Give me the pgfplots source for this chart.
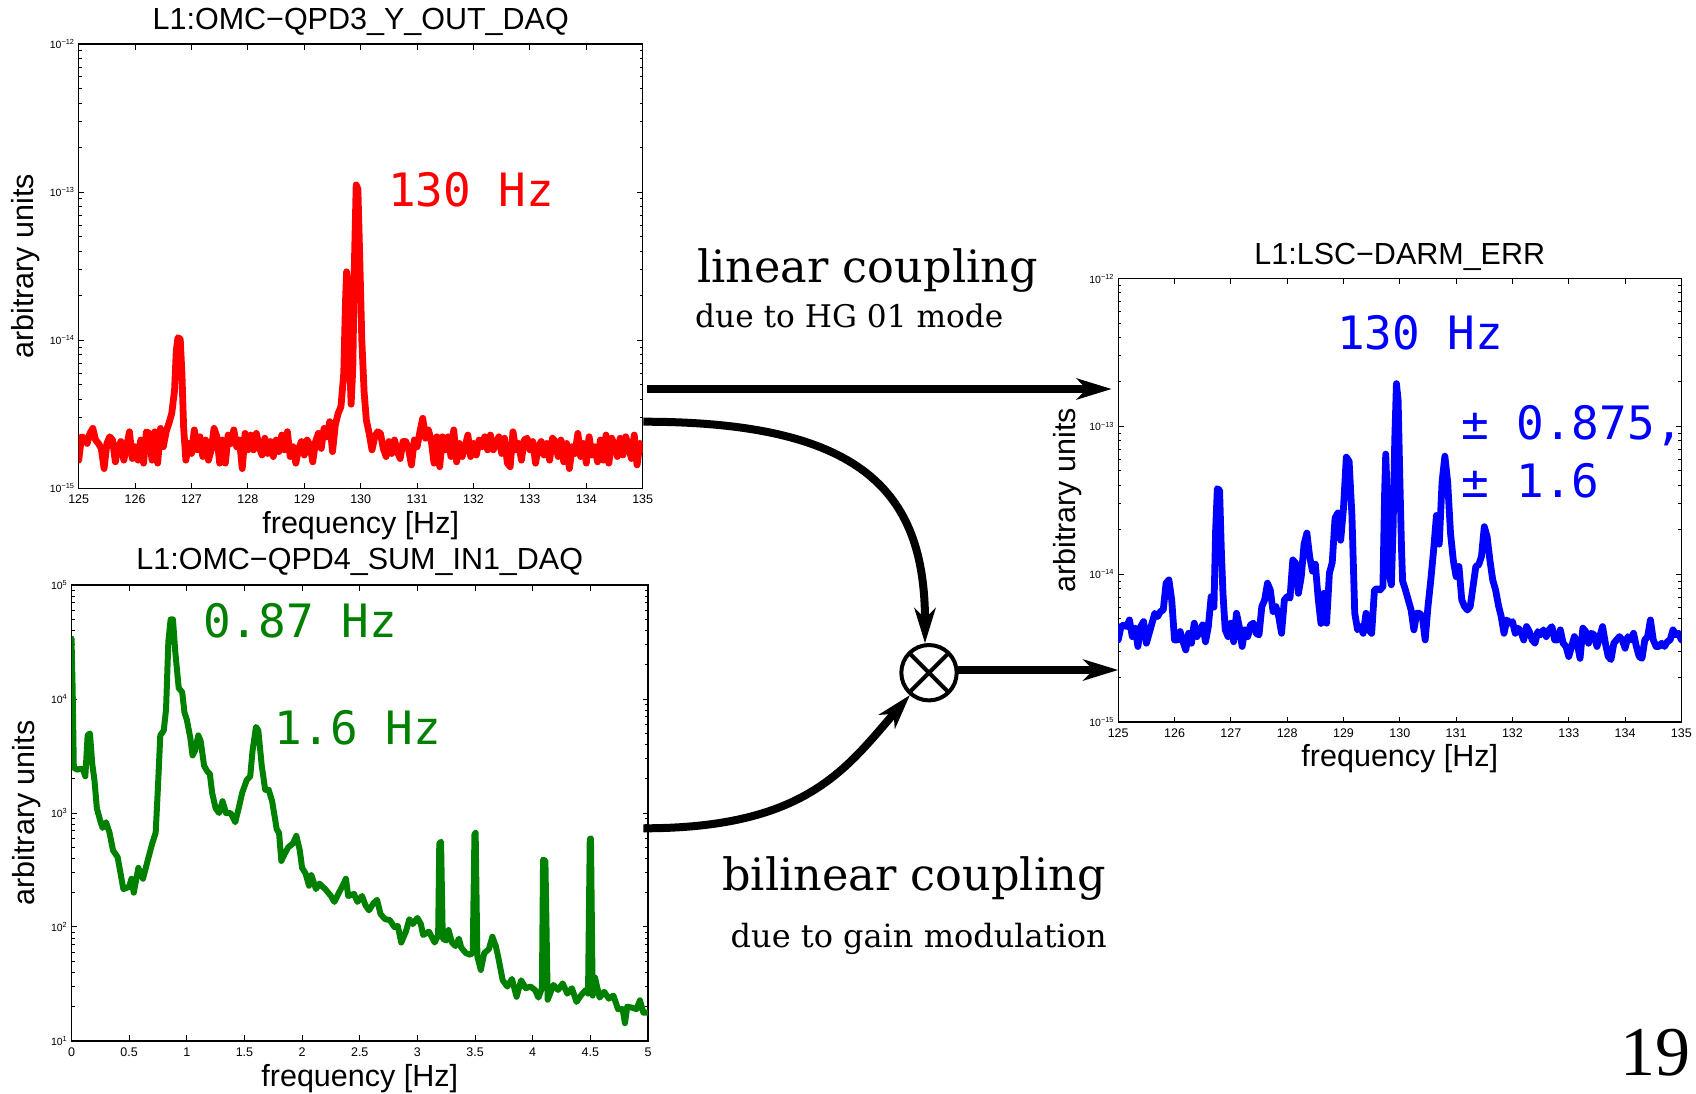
\documentclass[border=0pt]{standalone}
\usepackage{fontspec}
\setmainfont{Liberation Sans}
\newfontfamily\monof{DejaVu Sans Mono}
\newfontfamily\serifdv{DejaVu Serif}
\newfontfamily\timesf{Liberation Serif}
\usepackage{pgfplots}
\pgfplotsset{compat=1.18}
\usetikzlibrary{arrows.meta}
\definecolor{mgreen}{RGB}{0,128,0}
\newcommand{\fs}[1]{\fontsize{#1}{#1}\selectfont}
\tikzset{myline/.style={line width=6.8pt,line join=round,line cap=round}}
\pgfplotsset{
  refax/.style={
    scale only axis,
    anchor=south west,
    axis line style={line width=1.3pt},
    every tick/.style={black,line width=1pt},
    major tick length=5.5pt,
    minor tick length=3pt,
    tick align=inside,
    xtick pos=both, ytick pos=both,
    xticklabel style={font=\fs{12.5},inner sep=0pt,yshift=-6.5pt},
    yticklabel style={font=\fs{10.5},inner sep=0pt,xshift=-4pt},
    title style={font=\fs{30.5},inner sep=0pt},
    every axis label/.append style={font=\fs{30.5},inner sep=0pt},
    xlabel={frequency [Hz]},
    ylabel={arbitrary units},
  }
}
\begin{document}
\begin{tikzpicture}[x=1pt,y=1pt]
\useasboundingbox (0,0) rectangle (1696,-1093);

% ---------------- top-left: QPD3 ----------------
\begin{axis}[refax, ymode=log,
  at={(78.7pt,-488.3pt)}, width=564pt, height=444.2pt,
  xmin=125, xmax=135, ymin=1e-15, ymax=1e-12,
  xtick={125,126,127,128,129,130,131,132,133,134,135},
  xticklabels={125,126,127,128,129,130,131,132,133,134,135},
  ytick={1e-15,1e-14,1e-13,1e-12},
  yticklabels={10\textsuperscript{−15},10\textsuperscript{−14},10\textsuperscript{−13},10\textsuperscript{−12}},
  title={L1:OMC−QPD3\_Y\_OUT\_DAQ},
  title style={at={(axis description cs:0.5,1)},anchor=base,yshift=8.7pt},
  xlabel style={at={(axis description cs:0.5,-0.1015)},anchor=base},
  ylabel style={at={(axis description cs:-0.081,0.5)},anchor=base},
]
\addplot[red,myline,no markers] coordinates {
(125.00,1.55e-15)(125.05,2.23e-15)(125.10,2.18e-15)(125.15,2.01e-15)(125.20,2.35e-15)(125.25,2.54e-15)(125.30,2.12e-15)(125.35,2.01e-15)(125.40,1.86e-15)(125.45,1.36e-15)
(125.50,2.01e-15)(125.55,2.23e-15)(125.60,2.12e-15)(125.65,1.51e-15)(125.70,1.91e-15)(125.75,2.07e-15)(125.80,1.55e-15)(125.85,1.91e-15)(125.90,2.41e-15)(125.95,1.59e-15)
(126.00,1.91e-15)(126.05,1.55e-15)(126.10,2.12e-15)(126.15,1.48e-15)(126.20,2.41e-15)(126.25,2.35e-15)(126.30,1.55e-15)(126.35,2.41e-15)(126.40,1.48e-15)(126.45,2.54e-15)
(126.50,1.91e-15)(126.55,2.41e-15)(126.60,2.75e-15)(126.65,3.21e-15)(126.70,4.62e-15)(126.73,8.5e-15)(126.76,10.4e-15)(126.80,10.2e-15)(126.83,6.0e-15)(126.86,2.6e-15)
(126.90,1.55e-15)(126.95,2.01e-15)(127.00,1.72e-15)(127.05,2.48e-15)(127.10,1.82e-15)(127.15,2.23e-15)(127.20,1.64e-15)(127.25,2.12e-15)(127.30,1.55e-15)(127.35,1.82e-15)
(127.40,2.54e-15)(127.45,2.23e-15)(127.50,1.48e-15)(127.55,2.12e-15)(127.60,1.48e-15)(127.65,2.29e-15)(127.70,2.01e-15)(127.75,2.48e-15)(127.80,1.91e-15)(127.85,2.12e-15)
(127.90,1.36e-15)(127.95,2.35e-15)(128.00,1.82e-15)(128.05,2.29e-15)(128.10,1.82e-15)(128.15,2.35e-15)(128.20,1.91e-15)(128.25,1.68e-15)(128.30,2.18e-15)(128.35,1.72e-15)
(128.40,2.07e-15)(128.45,1.64e-15)(128.50,2.12e-15)(128.55,1.77e-15)(128.60,2.29e-15)(128.65,1.82e-15)(128.70,2.41e-15)(128.75,1.64e-15)(128.80,1.91e-15)(128.85,1.48e-15)
(128.90,1.86e-15)(128.95,2.07e-15)(129.00,1.68e-15)(129.05,2.12e-15)(129.10,1.96e-15)(129.15,1.51e-15)(129.20,2.07e-15)(129.25,2.35e-15)(129.30,1.86e-15)(129.35,2.54e-15)
(129.40,2.23e-15)(129.45,2.82e-15)(129.50,1.77e-15)(129.55,2.68e-15)(129.60,3.21e-15)(129.65,3.56e-15)(129.70,6.0e-15)(129.73,18e-15)(129.75,29e-15)(129.77,25e-15)
(129.80,8.0e-15)(129.83,3.7e-15)(129.86,6.5e-15)(129.89,35e-15)(129.92,112e-15)(129.95,105e-15)(129.98,40e-15)(130.02,10e-15)(130.06,4.5e-15)(130.10,2.89e-15)
(130.15,2.35e-15)(130.20,1.82e-15)(130.25,2.23e-15)(130.30,2.41e-15)(130.35,2.35e-15)(130.40,1.86e-15)(130.45,1.64e-15)(130.50,2.07e-15)(130.55,1.72e-15)(130.60,2.12e-15)
(130.65,1.77e-15)(130.70,1.59e-15)(130.75,2.07e-15)(130.80,2.07e-15)(130.85,1.82e-15)(130.90,1.44e-15)(130.95,2.12e-15)(131.00,1.91e-15)(131.05,2.41e-15)(131.10,2.97e-15)
(131.15,2.18e-15)(131.20,2.48e-15)(131.25,2.12e-15)(131.30,1.48e-15)(131.35,2.23e-15)(131.40,1.40e-15)(131.45,2.23e-15)(131.50,1.82e-15)(131.55,2.23e-15)(131.60,1.64e-15)
(131.65,2.48e-15)(131.70,1.51e-15)(131.75,2.01e-15)(131.80,1.64e-15)(131.85,1.91e-15)(131.90,2.29e-15)(131.95,1.64e-15)(132.00,2.01e-15)(132.05,1.68e-15)(132.10,2.12e-15)
(132.15,1.91e-15)(132.20,2.23e-15)(132.25,1.82e-15)(132.30,2.29e-15)(132.35,1.82e-15)(132.40,2.01e-15)(132.45,2.23e-15)(132.50,1.72e-15)(132.55,2.18e-15)(132.60,1.48e-15)
(132.65,1.40e-15)(132.70,2.41e-15)(132.75,1.82e-15)(132.80,2.01e-15)(132.85,1.55e-15)(132.90,2.12e-15)(132.95,2.18e-15)(133.00,1.82e-15)(133.05,2.07e-15)(133.10,1.48e-15)
(133.15,1.91e-15)(133.20,2.07e-15)(133.25,1.68e-15)(133.30,2.01e-15)(133.35,1.55e-15)(133.40,2.18e-15)(133.45,2.07e-15)(133.50,1.64e-15)(133.55,2.12e-15)(133.60,1.51e-15)
(133.65,2.01e-15)(133.70,1.36e-15)(133.75,1.91e-15)(133.80,1.72e-15)(133.85,2.35e-15)(133.90,1.64e-15)(133.95,2.01e-15)(134.00,1.48e-15)(134.05,2.23e-15)(134.10,1.68e-15)
(134.15,1.91e-15)(134.20,1.51e-15)(134.25,2.12e-15)(134.30,1.55e-15)(134.35,2.29e-15)(134.40,1.48e-15)(134.45,2.18e-15)(134.50,1.96e-15)(134.55,1.64e-15)(134.60,2.18e-15)
(134.65,1.68e-15)(134.70,2.23e-15)(134.75,1.91e-15)(134.80,1.59e-15)(134.85,2.29e-15)(134.90,1.44e-15)(134.95,2.01e-15)(135.00,1.82e-15)
};
\end{axis}

% ---------------- bottom-left: QPD4 SUM ----------------
\begin{axis}[refax, ymode=log,
  at={(71.5pt,-1040.9pt)}, width=576.5pt, height=455.8pt,
  xmin=0, xmax=5, ymin=10, ymax=1e5,
  xtick={0,0.5,1,1.5,2,2.5,3,3.5,4,4.5,5},
  xticklabels={0,0.5,1,1.5,2,2.5,3,3.5,4,4.5,5},
  ytick={10,100,1000,10000,100000},
  yticklabels={10\textsuperscript{1},10\textsuperscript{2},10\textsuperscript{3},10\textsuperscript{4},10\textsuperscript{5}},
  title={L1:OMC−QPD4\_SUM\_IN1\_DAQ},
  title style={at={(axis description cs:0.5,1)},anchor=base,yshift=9.3pt},
  xlabel style={at={(axis description cs:0.5,-0.099)},anchor=base},
  ylabel style={at={(axis description cs:-0.065,0.5)},anchor=base},
]
\addplot[mgreen,myline,line width=6pt,no markers] coordinates {
(0.00,34000)(0.01,12000)(0.02,2500)(0.05,2400)(0.08,2450)(0.10,2400)(0.12,2100)(0.14,4800)(0.16,5000)(0.18,2700)
(0.20,1900)(0.22,1100)(0.25,850)(0.27,740)(0.30,830)(0.33,670)(0.36,470)(0.40,410)(0.45,215)(0.50,225)
(0.52,265)(0.54,200)(0.58,330)(0.62,265)(0.66,380)(0.70,540)(0.73,670)(0.75,1700)(0.77,4800)(0.80,5300)
(0.82,8100)(0.84,32000)(0.86,50000)(0.88,50000)(0.90,26000)(0.93,12500)(0.96,11500)(0.98,7600)(1.00,6600)(1.03,4600)
(1.05,3200)(1.07,3500)(1.10,4800)(1.12,4300)(1.15,2600)(1.18,2300)(1.20,2200)(1.22,1500)(1.25,1100)(1.28,1000)
(1.31,1270)(1.34,1000)(1.38,1000)(1.42,830)(1.45,1100)(1.48,1500)(1.52,1950)(1.55,2100)(1.57,3500)(1.60,5700)
(1.62,5300)(1.65,2600)(1.68,1600)(1.71,1600)(1.74,1270)(1.78,720)(1.80,670)(1.82,380)(1.85,440)(1.88,500)
(1.92,540)(1.95,630)(1.98,470)(2.00,330)(2.03,295)(2.06,230)(2.08,285)(2.12,215)(2.15,240)(2.20,215)
(2.25,187)(2.28,166)(2.32,200)(2.36,240)(2.38,265)(2.40,187)(2.45,195)(2.48,166)(2.52,187)(2.55,155)
(2.58,140)(2.62,162)(2.65,173)(2.68,130)(2.72,117)(2.76,115)(2.80,100)(2.83,102)(2.86,73)(2.90,91)
(2.93,117)(2.96,106)(3.00,120)(3.03,106)(3.05,85)(3.10,91)(3.15,73)(3.18,85)(3.19,540)(3.205,560)
(3.22,79)(3.25,76)(3.27,94)(3.30,73)(3.33,68)(3.36,79)(3.38,66)(3.42,59)(3.46,57)(3.48,60)
(3.495,650)(3.505,670)(3.52,55)(3.55,42)(3.58,59)(3.62,64)(3.65,82)(3.68,68)(3.70,55)(3.74,34)
(3.78,30)(3.82,35)(3.86,24.4)(3.90,34)(3.94,29)(3.98,30)(4.02,28)(4.05,24)(4.08,29)(4.09,390)
(4.11,380)(4.13,23)(4.18,31)(4.22,28)(4.26,32)(4.30,26)(4.34,29)(4.38,22)(4.42,25.2)(4.46,28)
(4.48,26)(4.495,590)(4.505,600)(4.52,25)(4.54,36)(4.58,24)(4.62,27)(4.66,23.5)(4.70,25)(4.74,19)
(4.78,19)(4.80,14.3)(4.82,20)(4.86,19.6)(4.90,19)(4.93,22.7)(4.96,17.7)(5.00,17.7)
};
\end{axis}

% ---------------- right: DARM_ERR ----------------
\begin{axis}[refax, ymode=log,
  at={(1118.2pt,-722.1pt)}, width=563.2pt, height=443.5pt,
  xmin=125, xmax=135, ymin=1e-15, ymax=1e-12,
  xtick={125,126,127,128,129,130,131,132,133,134,135},
  xticklabels={125,126,127,128,129,130,131,132,133,134,135},
  ytick={1e-15,1e-14,1e-13,1e-12},
  yticklabels={10\textsuperscript{−15},10\textsuperscript{−14},10\textsuperscript{−13},10\textsuperscript{−12}},
  title={L1:LSC−DARM\_ERR},
  title style={at={(axis description cs:0.5,1)},anchor=base,yshift=8.3pt},
  xlabel style={at={(axis description cs:0.5,-0.1005)},anchor=base},
  ylabel style={at={(axis description cs:-0.0767,0.5)},anchor=base},
]
\addplot[blue,myline,no markers] coordinates {
(125.00,3.6e-15)(125.05,4.43e-15)(125.10,4.55e-15)(125.15,4.43e-15)(125.20,4.91e-15)(125.25,3.79e-15)(125.30,4.32e-15)(125.35,3.25e-15)(125.40,4.43e-15)(125.45,4.79e-15)
(125.50,3.42e-15)(125.55,3.99e-15)(125.60,4.67e-15)(125.65,5.45e-15)(125.70,5.18e-15)(125.75,5.6e-15)(125.80,5.74e-15)(125.85,8.7e-15)(125.90,9.16e-15)(125.95,6.71e-15)
(126.00,3.6e-15)(126.05,3.6e-15)(126.10,4.1e-15)(126.15,3.5e-15)(126.20,3.08e-15)(126.25,3.99e-15)(126.30,3.42e-15)(126.35,4.67e-15)(126.40,3.79e-15)(126.45,4.21e-15)
(126.50,4.55e-15)(126.55,3.5e-15)(126.60,4.43e-15)(126.65,7.06e-15)(126.70,6.0e-15)(126.73,20e-15)(126.76,38e-15)(126.80,37e-15)(126.83,15e-15)(126.86,7.44e-15)
(126.90,4.21e-15)(126.95,3.79e-15)(127.00,4.67e-15)(127.05,3.5e-15)(127.10,5.45e-15)(127.15,4.43e-15)(127.20,3.25e-15)(127.25,4.21e-15)(127.30,3.79e-15)(127.35,4.55e-15)
(127.40,4.67e-15)(127.45,3.99e-15)(127.50,3.9e-15)(127.55,6.05e-15)(127.60,6.71e-15)(127.65,8.7e-15)(127.70,7.84e-15)(127.75,5.6e-15)(127.80,6.05e-15)(127.85,5.18e-15)
(127.90,3.99e-15)(127.95,6.71e-15)(128.00,7.06e-15)(128.05,6.9e-15)(128.10,12.5e-15)(128.15,11.9e-15)(128.20,7.44e-15)(128.25,9.65e-15)(128.30,16e-15)(128.35,19e-15)
(128.40,13.1e-15)(128.45,10.5e-15)(128.50,11.7e-15)(128.55,6.9e-15)(128.60,4.65e-15)(128.65,7.44e-15)(128.70,4.67e-15)(128.75,10.2e-15)(128.80,12e-15)(128.85,24e-15)
(128.90,26e-15)(128.95,17e-15)(129.00,28e-15)(129.05,62e-15)(129.10,58e-15)(129.15,25e-15)(129.20,5.45e-15)(129.25,4.21e-15)(129.30,4.43e-15)(129.35,3.99e-15)
(129.40,5.45e-15)(129.45,4.21e-15)(129.50,3.99e-15)(129.55,7.84e-15)(129.60,8.0e-15)(129.65,7.84e-15)(129.70,8.26e-15)(129.73,35e-15)(129.75,65e-15)(129.77,40e-15)
(129.80,10.5e-15)(129.85,8.5e-15)(129.88,20e-15)(129.91,80e-15)(129.94,195e-15)(129.97,150e-15)(130.00,45e-15)(130.03,15e-15)(130.05,9.0e-15)(130.10,7.84e-15)
(130.15,6.71e-15)(130.20,5.74e-15)(130.25,4.21e-15)(130.30,5.45e-15)(130.35,5.45e-15)(130.40,5.18e-15)(130.45,3.6e-15)(130.50,6.05e-15)(130.55,9.16e-15)(130.60,14.5e-15)
(130.65,25e-15)(130.70,16e-15)(130.75,42e-15)(130.80,63e-15)(130.85,42e-15)(130.90,19e-15)(130.95,12.4e-15)(131.00,9.65e-15)(131.05,11.3e-15)(131.10,6.71e-15)
(131.15,6.05e-15)(131.20,5.74e-15)(131.25,6.05e-15)(131.30,8.26e-15)(131.35,11.3e-15)(131.40,11.6e-15)(131.45,13.2e-15)(131.50,21e-15)(131.55,18e-15)(131.60,12.4e-15)
(131.65,9.16e-15)(131.70,7.84e-15)(131.75,6.2e-15)(131.80,5.18e-15)(131.85,3.99e-15)(131.90,4.91e-15)(131.95,4.67e-15)(132.00,4.79e-15)(132.05,3.99e-15)(132.10,4.32e-15)
(132.15,4.1e-15)(132.20,3.6e-15)(132.25,4.43e-15)(132.30,4.1e-15)(132.35,3.6e-15)(132.40,3.42e-15)(132.45,4.1e-15)(132.50,3.9e-15)(132.55,4.21e-15)(132.60,3.79e-15)
(132.65,4.21e-15)(132.70,4.43e-15)(132.75,3.6e-15)(132.80,3.6e-15)(132.85,4.21e-15)(132.90,3.42e-15)(132.95,3.25e-15)(133.00,2.78e-15)(133.05,3.25e-15)(133.10,3.79e-15)
(133.15,3.42e-15)(133.20,2.7e-15)(133.25,4.32e-15)(133.30,4.1e-15)(133.35,3.42e-15)(133.40,3.99e-15)(133.45,3.9e-15)(133.50,3.25e-15)(133.55,3.79e-15)(133.60,4.43e-15)
(133.65,3.42e-15)(133.70,2.78e-15)(133.75,2.65e-15)(133.80,3.42e-15)(133.85,3.6e-15)(133.90,3.79e-15)(133.95,3.6e-15)(134.00,3.16e-15)(134.05,3.79e-15)(134.10,3.6e-15)
(134.15,3.99e-15)(134.20,3.25e-15)(134.25,2.78e-15)(134.30,2.7e-15)(134.35,3.6e-15)(134.40,3.79e-15)(134.45,4.91e-15)(134.50,3.6e-15)(134.55,3.25e-15)(134.60,3.25e-15)
(134.65,3.42e-15)(134.70,3.25e-15)(134.75,3.5e-15)(134.80,3.6e-15)(134.85,4.21e-15)(134.90,3.9e-15)(134.95,3.99e-15)(135.00,3.6e-15)
};
\end{axis}

% ---------------- annotations ----------------
\node[anchor=base west,inner sep=0pt,text=red,font=\monof\fs{46}] at (388,-206.6) {130 Hz};
\node[anchor=base west,inner sep=0pt,text=mgreen,font=\monof\fs{46}] at (203,-637) {0.87 Hz};
\node[anchor=base west,inner sep=0pt,text=mgreen,font=\monof\fs{46}] at (274.5,-744.6) {1.6 Hz};
\node[anchor=base west,inner sep=0pt,text=blue,font=\monof\fs{46}] at (1337,-349.5) {130 Hz};
\node[anchor=base west,inner sep=0pt,text=blue,font=\monof\fs{46}] at (1461,-439) {± 0.875,};
\node[anchor=base west,inner sep=0pt,text=blue,font=\monof\fs{46}] at (1461,-497.6) {± 1.6};

\node[anchor=base west,inner sep=0pt,font=\serifdv\fs{44.6}] at (697,-282) {linear coupling};
\node[anchor=base west,inner sep=0pt,font=\serifdv\fs{31.2}] at (695,-327.7) {due to HG 01 mode};
\node[anchor=base west,inner sep=0pt,font=\serifdv\fs{44.6}] at (722,-890.7) {bilinear coupling};
\node[anchor=base west,inner sep=0pt,font=\serifdv\fs{32}] at (730.5,-947) {due to gain modulation};
\node[anchor=base west,inner sep=0pt,font=\timesf\fs{70}] at (1620,-1075) {19};

% ---------------- arrows ----------------
\tikzset{bigarrow/.style={line width=8pt,-{Stealth[length=35pt,width=21pt,inset=10pt]}}}
\draw[bigarrow] (646.7,-389) -- (1111.7,-389);
\draw[bigarrow] (643.3,-421.7) .. controls (860,-421.7) and (925,-490) .. (925,-643.3);
\draw[bigarrow] (643.3,-828.3) .. controls (805,-828.3) and (845,-770) .. (910,-695);
\draw[line width=4pt] (929,-672.7) circle (27.7pt);
\draw[line width=4pt] (909.4,-692.3) -- (948.6,-653.1);
\draw[line width=4pt] (909.4,-653.1) -- (948.6,-692.3);
\draw[bigarrow] (957,-670) -- (1118.3,-670);
\end{tikzpicture}
\end{document}
